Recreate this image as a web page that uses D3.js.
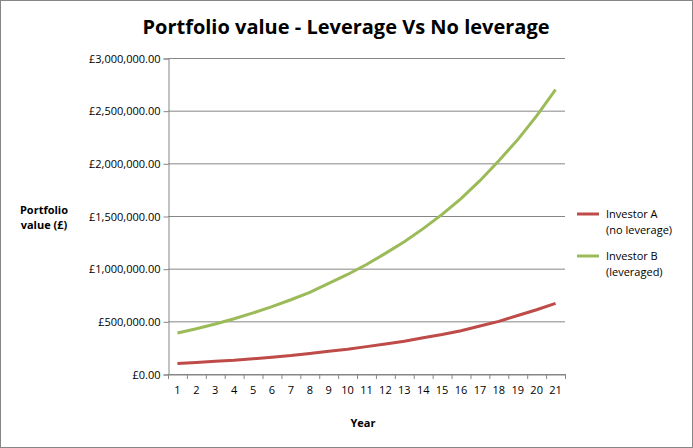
<!DOCTYPE html>
<html>
<head>
<script src="https://cdn.jsdelivr.net/npm/d3@7"></script>
<style>
body { margin: 0; background: #fff; font-family: "Open Sans", "DejaVu Sans", sans-serif; }
</style>
</head>
<body>
<script>
var years = d3.range(1, 22);
var investorA = [100000, 110000, 120000, 130000, 145000, 160000, 175000, 195000, 215000, 235000, 260000, 285000, 310000, 345000, 375000, 410000, 455000, 500000, 555000, 610000, 670000];
var investorB = [390000, 430000, 475000, 525000, 580000, 640000, 705000, 775000, 860000, 945000, 1040000, 1145000, 1255000, 1380000, 1515000, 1665000, 1835000, 2025000, 2225000, 2450000, 2700000];
var seriesNames = [["Investor A", "(no leverage)"], ["Investor B", "(leveraged)"]];
var colors = ["#be4b48", "#9bbb59"];

var w = 693, h = 448;
var svg = d3.select("body").append("svg").attr("width", w).attr("height", h);

svg.append("rect").attr("x", 0.5).attr("y", 0.5).attr("width", w - 1).attr("height", h - 1)
    .attr("fill", "#fff").attr("stroke", "#868686");

var plotL = 168, plotR = 565, plotT = 58, plotB = 374;

var x = d3.scaleBand().domain(years).range([plotL, plotR]);
var y = d3.scaleLinear().domain([0, 3000000]).range([plotB, plotT]);

// gridlines
svg.append("g").selectAll("line").data(y.ticks(6)).enter().append("line")
    .attr("x1", plotL).attr("x2", plotR)
    .attr("y1", function (d) { return y(d) + 0.5; }).attr("y2", function (d) { return y(d) + 0.5; })
    .attr("stroke", "#868686");

var fmt = function (d) { return "£" + d3.format(",.2f")(d); };
var yAxis = svg.append("g").attr("transform", "translate(" + (plotL + 0.5) + ",0.5)")
    .call(d3.axisLeft(y).ticks(6).tickFormat(fmt).tickSize(5));
var xAxis = svg.append("g").attr("transform", "translate(0," + (plotB + 0.5) + ")")
    .call(d3.axisBottom(x).tickSize(0).tickPadding(12));
[yAxis, xAxis].forEach(function (a) {
    a.selectAll("path,line").attr("stroke", "#868686");
    a.selectAll("text").attr("font-size", 11).attr("fill", "#000").attr("font-family", "Open Sans, sans-serif");
});
// x tick marks between categories
svg.append("g").selectAll("line").data(d3.range(0, 22)).enter().append("line")
    .attr("x1", function (d) { return plotL + d * x.step() + 0.5; })
    .attr("x2", function (d) { return plotL + d * x.step() + 0.5; })
    .attr("y1", plotB).attr("y2", plotB + 5).attr("stroke", "#868686");

var line = d3.line().x(function (d, i) { return x(years[i]) + x.bandwidth() / 2; }).y(function (d) { return y(d); });
[investorA, investorB].forEach(function (s, i) {
    svg.append("path").datum(s).attr("d", line).attr("fill", "none")
        .attr("stroke", colors[i]).attr("stroke-width", 3);
});

svg.append("text").attr("x", 346).attr("y", 34).attr("text-anchor", "middle")
    .attr("font-size", 20).attr("font-weight", "bold").text("Portfolio value - Leverage Vs No leverage");
svg.append("text").attr("x", 363).attr("y", 427).attr("text-anchor", "middle")
    .attr("font-size", 11).attr("font-weight", "bold").text("Year");
svg.append("text").attr("x", 44).attr("y", 214).attr("text-anchor", "middle")
    .attr("font-size", 11).attr("font-weight", "bold")
    .selectAll("tspan").data(["Portfolio", "value (£)"]).enter().append("tspan")
    .attr("x", 44).attr("dy", function (d, i) { return i ? 15 : 0; }).text(function (d) { return d; });

var lg = svg.append("g").selectAll("g").data(seriesNames).enter().append("g")
    .attr("transform", function (d, i) { return "translate(577," + (218 + i * 42) + ")"; });
lg.append("line").attr("x1", 0).attr("x2", 22).attr("y1", -4).attr("y2", -4)
    .attr("stroke", function (d, i) { return colors[i]; }).attr("stroke-width", 3);
lg.append("text").attr("font-size", 11)
    .selectAll("tspan").data(function (d) { return d; }).enter().append("tspan")
    .attr("x", 29).attr("dy", function (d, i) { return i ? 16 : 0; }).text(function (d) { return d; });
</script>
</body>
</html>
